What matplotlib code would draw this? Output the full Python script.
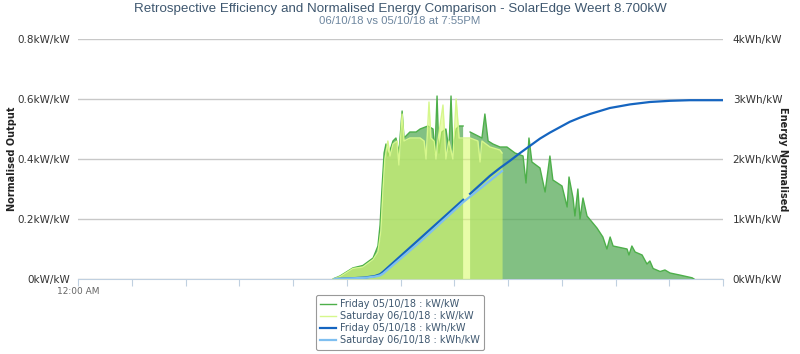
import matplotlib.pyplot as plt
import numpy as np

# Friday 05/10/18 output (hours, kW/kW); nan marks the missing readings
fri_t = [9.49, 9.75, 10.23, 10.60, 10.98, 11.16, 11.24, 11.31, 11.39, 11.46,
         11.53, 11.65, 11.72, 11.83, 11.94, 12.06, 12.13, 12.35, 12.58, 12.73,
         13.02, 13.21, 13.28, 13.36, 13.43, 13.54, 13.69, 13.80, 13.88, 13.95,
         14.07, 14.18, 14.33, 14.45, 14.59, 14.81, 15.03, 15.14, 15.26, 15.44,
         15.70, 15.96, 16.26, 16.56, 16.67, 16.78, 16.89, 17.19, 17.38, 17.56,
         17.67, 18.01, 18.20, 18.27, 18.42, 18.49, 18.60, 18.68, 18.79, 18.94,
         19.31, 19.53, 19.68, 19.80, 19.91, 20.43, 20.50, 20.61, 20.73, 20.99,
         21.17, 21.28, 21.40, 21.66, 21.84, 22.03, 22.40, 22.85, 22.92]
fri_kw = [0.0, 0.01, 0.037, 0.045, 0.07, 0.11, 0.18, 0.30, 0.42, 0.45,
          0.41, 0.44, 0.46, 0.47, 0.42, 0.56, 0.47, 0.49, 0.49, 0.50,
          0.51, 0.50, 0.42, 0.61, 0.42, 0.49, 0.50, 0.43, 0.61, 0.43,
          0.50, 0.51, 0.51, np.nan, 0.49, 0.48, 0.47, 0.55, 0.46, 0.45,
          0.44, 0.44, 0.42, 0.41, 0.32, 0.47, 0.39, 0.37, 0.29, 0.41,
          0.33, 0.31, 0.24, 0.34, 0.27, 0.21, 0.30, 0.20, 0.27, 0.21,
          0.17, 0.14, 0.10, 0.14, 0.11, 0.10, 0.08, 0.11, 0.09, 0.08,
          0.05, 0.06, 0.035, 0.025, 0.03, 0.02, 0.013, 0.004, 0.0]

# Saturday 06/10/18 output, up to 7:55PM
sat_t = [9.49, 9.75, 10.23, 10.60, 10.98, 11.16, 11.27, 11.35, 11.42, 11.53,
         11.61, 11.72, 11.87, 11.94, 12.06, 12.13, 12.35, 12.73, 12.88, 12.95,
         13.06, 13.13, 13.25, 13.32, 13.39, 13.58, 13.69, 13.80, 13.95, 14.07,
         14.18, 14.59, 14.88, 14.96, 15.03, 15.33, 15.70, 15.78]
sat_kw = [0.0, 0.008, 0.035, 0.04, 0.065, 0.09, 0.16, 0.30, 0.40, 0.46,
          0.41, 0.45, 0.46, 0.38, 0.55, 0.46, 0.47, 0.47, 0.46, 0.40,
          0.59, 0.47, 0.46, 0.40, 0.46, 0.58, 0.40, 0.46, 0.40, 0.60,
          0.47, 0.47, 0.46, 0.39, 0.46, 0.44, 0.43, 0.42]

# cumulative energy (hours, kWh/kW)
fri_et = [9.56, 10.12, 10.68, 11.05, 11.24, 11.35, 14.33, 14.45, 14.59,
          15.33, 15.70, 16.07, 16.45, 16.82, 17.19, 17.56, 17.93, 18.30,
          18.68, 19.05, 19.42, 19.79, 20.17, 20.54, 20.91, 21.28, 21.66,
          22.03, 22.40, 22.77, 23.14, 24.0]
fri_kwh = [0.0, 0.01, 0.025, 0.05, 0.08, 0.12, 1.32, np.nan, 1.42,
           1.72, 1.85, 1.97, 2.10, 2.22, 2.34, 2.44, 2.53, 2.62,
           2.69, 2.75, 2.80, 2.85, 2.88, 2.91, 2.93, 2.95, 2.96,
           2.97, 2.975, 2.98, 2.98, 2.98]
sat_et = [9.56, 10.68, 11.05, 11.24, 11.35, 12.73, 14.33, 15.78]
sat_kwh = [0.0, 0.02, 0.04, 0.06, 0.09, 0.62, 1.28, 1.80]

hour_ticks = list(range(0, 25, 2))
hour_labels = ['12:00 AM'] + [''] * 12

plt.rcParams['font.family'] = ['DejaVu Sans']

fig = plt.figure(figsize=(8, 3.54), dpi=100)
ax = fig.add_axes([78 / 800, 1 - 279 / 354, 645 / 800, 240 / 354])
ax2 = ax.twinx()

ax.fill_between(fri_t, fri_kw, 0, color='#58ab59', alpha=0.75, lw=0, zorder=2)
l1, = ax.plot(fri_t, fri_kw, color='#4daf4a', lw=1, zorder=3)
ax.fill_between(sat_t, sat_kw, 0, color='#d9fa6e', alpha=0.6, lw=0, zorder=4)
l2, = ax.plot(sat_t, sat_kw, color='#d6f78c', lw=1, zorder=5)

l3, = ax2.plot(fri_et, fri_kwh, color='#1565c0', lw=1.6)
l4, = ax2.plot(sat_et, sat_kwh, color='#7fbff0', lw=1.6)

ax.set_xlim(0, 24)
ax.set_ylim(0, 0.8)
ax2.set_ylim(0, 4)
ax.set_xticks(hour_ticks)
ax.set_xticklabels(hour_labels)
ax.set_yticks([0, 0.2, 0.4, 0.6, 0.8])
ax.set_yticklabels(['0kW/kW', '0.2kW/kW', '0.4kW/kW', '0.6kW/kW', '0.8kW/kW'])
ax2.set_yticks([0, 1, 2, 3, 4])
ax2.set_yticklabels(['0kWh/kW', '1kWh/kW', '2kWh/kW', '3kWh/kW', '4kWh/kW'])

ax.grid(axis='y', color='#c8c8c8', lw=1, zorder=0)
ax.set_axisbelow(True)
for a in (ax, ax2):
    for s in ('top', 'left', 'right'):
        a.spines[s].set_visible(False)
    a.spines['bottom'].set_color('#c0d0e0')
ax2.spines['bottom'].set_visible(False)

ax.tick_params(axis='y', length=0, pad=6, labelsize=7.5, labelcolor='#333333')
ax2.tick_params(axis='y', length=0, pad=7, labelsize=7.5, labelcolor='#333333')
ax.tick_params(axis='x', length=5, color='#c0d0e0', pad=1, labelsize=6.5,
               labelcolor='#666666')

ax.set_ylabel('Normalised Output', fontsize=7, fontweight='bold', color='#222222')
ax.yaxis.set_label_coords(-0.095, 0.5)
ax2.set_ylabel('Energy Normalised', fontsize=7, fontweight='bold',
               color='#222222', rotation=-90, va='bottom')
ax2.yaxis.set_label_coords(1.085, 0.5)

fig.text(0.5, 1 - 9 / 354, 'Retrospective Efficiency and Normalised Energy Comparison - SolarEdge Weert 8.700kW',
         ha='center', va='center', fontsize=9.6, color='#3e576f',
         family=['Liberation Sans'])
fig.text(0.5, 1 - 21 / 354, '06/10/18 vs 05/10/18 at 7:55PM', ha='center',
         va='center', fontsize=8.2, color='#6d869f',
         family=['Liberation Sans'])

leg = fig.legend([l1, l2, l3, l4],
                 ['Friday 05/10/18 : kW/kW', 'Saturday 06/10/18 : kW/kW',
                  'Friday 05/10/18 : kWh/kW', 'Saturday 06/10/18 : kWh/kW'],
                 loc='upper center', bbox_to_anchor=(0.5, 1 - 295 / 354),
                 borderaxespad=0, fontsize=7, handlelength=1.6,
                 handletextpad=0.4, labelspacing=0.2, borderpad=0.45,
                 labelcolor='#3e576f', edgecolor='#999999', framealpha=1)
leg.get_frame().set_linewidth(0.8)

fig.savefig('out.png', dpi=100)
